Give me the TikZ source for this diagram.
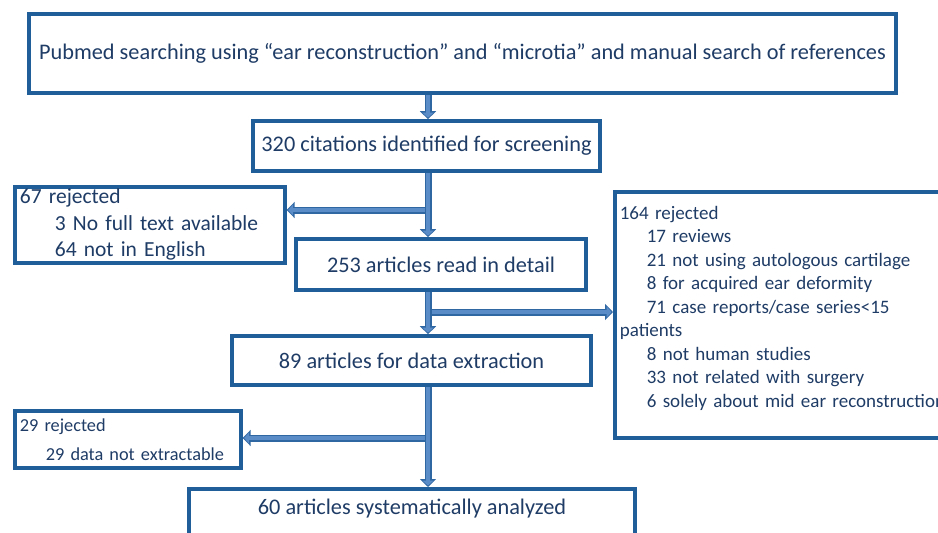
\documentclass[tikz,border=0pt]{standalone}
\usepackage{fontspec}
\setmainfont{Carlito}
\usetikzlibrary{arrows.meta}
\definecolor{boxline}{HTML}{1F5E99}
\definecolor{txt}{HTML}{1F3C66}
\definecolor{arrfill}{HTML}{5A8CC8}
\definecolor{arredge}{HTML}{2F67A3}
\begin{document}
\begin{tikzpicture}[x=1pt,y=-1pt,
  box/.style={draw=boxline, line width=3.7pt, fill=white, text=txt, inner sep=0pt,
    font=\fontsize{22.3}{26}\selectfont},
  rejbox/.style={box, anchor=north west, align=left, inner xsep=5pt},
  flow/.style={draw=arredge, line width=7pt, -{Triangle[width=16pt,length=8pt]},
    postaction={draw=arrfill, line width=4pt, -{Triangle[width=11pt,length=5pt]}, shorten >=1.5pt}}]
\useasboundingbox (0,0) rectangle (938,533);
\clip (0,0) rectangle (938,533);
\fill[white] (0,0) rectangle (938,533);
\coordinate (spine) at (428,0);
\node[box, minimum width=867pt, minimum height=79pt] (search) at (462.5,53.5)
  {Pubmed searching using “ear reconstruction” and “microtia” and manual search of references};
\node[box, minimum width=347pt, minimum height=50pt] (c320) at (426.5,146)
  {320 citations identified for screening};
\node[box, minimum width=290pt, minimum height=51pt] (a253) at (441,264.5)
  {253 articles read in detail};
\node[box, minimum width=359pt, minimum height=49pt] (a89) at (411.5,360.5)
  {89 articles for data extraction};
\node[box, anchor=north, minimum width=446pt, text height=26pt, text depth=60pt] (a60) at (412,487)
  {60 articles systematically analyzed};
\node[rejbox, font=\fontsize{21.5}{26.5}\selectfont, minimum width=270pt, minimum height=76pt, text width=260pt] (r67) at (13,185)
  {67 rejected\\
   \hspace*{35pt}3 No full text available\\
   \hspace*{35pt}64 not in English};
\node[rejbox, font=\fontsize{19}{23.5}\selectfont, minimum width=387pt, minimum height=246pt, text width=377pt] (r164) at (613,190)
  {164 rejected\\
   \hspace*{27pt}17 reviews\\
   \hspace*{27pt}21 not using autologous cartilage\\
   \hspace*{27pt}8 for acquired ear deformity\\
   \hspace*{27pt}71 case reports/case series<15\\
   patients\\
   \hspace*{27pt}8 not human studies\\
   \hspace*{27pt}33 not related with surgery\\
   \hspace*{27pt}6 solely about mid ear reconstruction\rule[-16pt]{0pt}{1pt}};
\node[rejbox, font=\fontsize{18.3}{29}\selectfont, minimum width=226pt, minimum height=57pt, text width=216pt] (r29) at (13,409)
  {29 rejected\\
   \hspace*{26pt}29 data not extractable};
\coordinate (b1) at (428,210);
\coordinate (b2) at (428,312);
\coordinate (b3) at (428,438);
\draw[flow] (b1) -- (r67.east |- b1);
\draw[flow] (b2) -- (r164.west |- b2);
\draw[flow] (b3) -- (r29.east |- b3);
\draw[flow] (search.south -| spine) -- (c320.north -| spine);
\draw[flow] (c320.south -| spine) -- (a253.north -| spine);
\draw[flow] (a253.south -| spine) -- (a89.north -| spine);
\draw[flow] (a89.south -| spine) -- (a60.north -| spine);
\end{tikzpicture}
\end{document}
